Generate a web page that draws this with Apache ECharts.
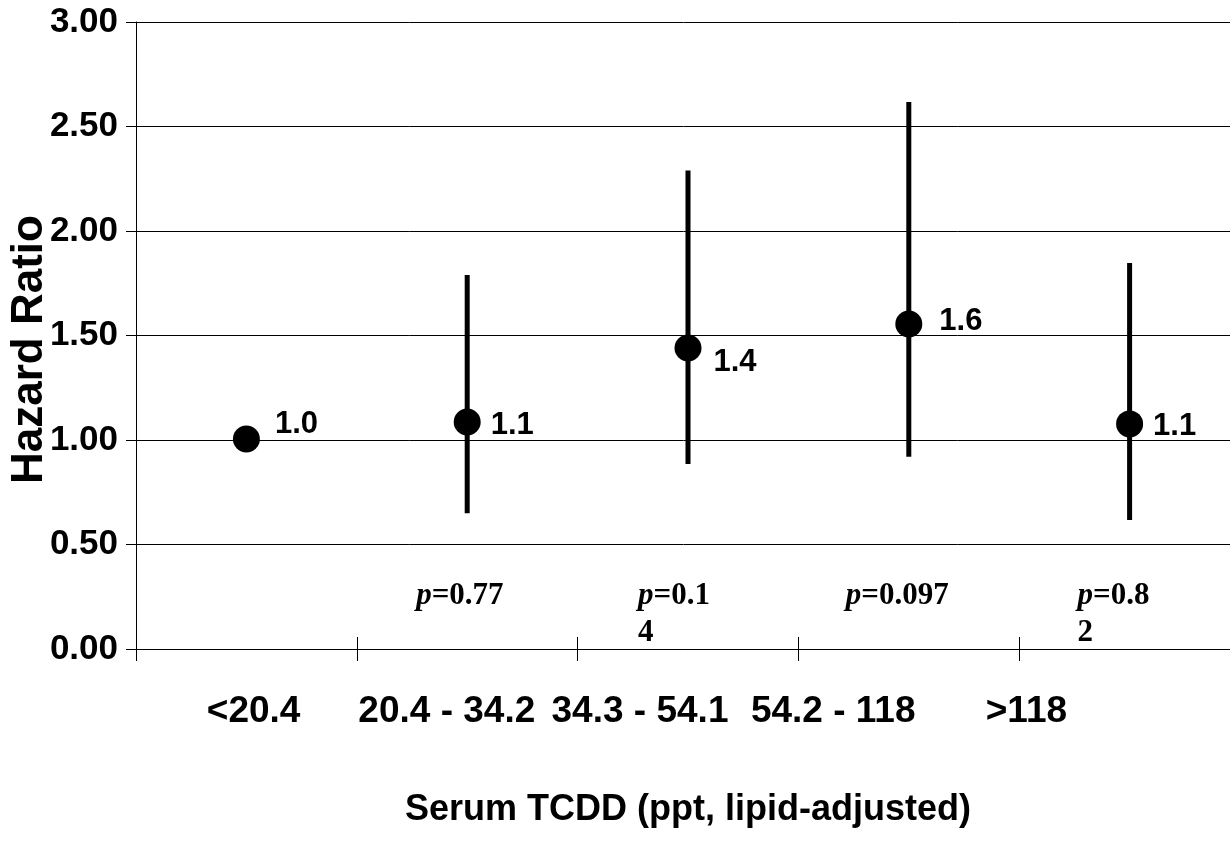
<!DOCTYPE html>
<html>
<head>
<meta charset="utf-8">
<script src="https://cdn.jsdelivr.net/npm/echarts@6/dist/echarts.min.js"></script>
<style>
    html, body { margin: 0; padding: 0; background: #fff; }
    #chart { width: 1230px; height: 862px; }
</style>
</head>
<body>
<div id="chart"></div>
<script>
// 数据
var categories = ['<20.4', '20.4 - 34.2', '34.3 - 54.1', '54.2 - 118', '>118'];
var hazardRatio = [1.005, 1.086, 1.44, 1.555, 1.077];
var ciLower = [null, 0.65, 0.885, 0.92, 0.617];
var ciUpper = [null, 1.79, 2.29, 2.617, 1.847];
var hrLabels = ['1.0', '1.1', '1.4', '1.6', '1.1'];
var pValues = ['', '0.77', '0.1\n4', '0.097', '0.8\n2'];

// label placement (px)
var hrLabelOffset = [[10, -15], [5, 3], [7, 14], [12, -3], [5, 3]];
var pLabelDx = [0, -51, -50, -63, -52];
var pRowValue = 0.34;

var sans = "'Liberation Sans', Arial, sans-serif";
var serif = "'Liberation Serif', 'Times New Roman', serif";

var chart = echarts.init(document.getElementById('chart'));

var errData = [];
for (var i = 0; i < categories.length; i++) {
    if (ciLower[i] != null) errData.push([i, ciLower[i], ciUpper[i]]);
}

var pointData = hazardRatio.map(function (v, i) {
    return {
        value: [i, v],
        label: { formatter: hrLabels[i], offset: hrLabelOffset[i] }
    };
});

var pData = [];
for (var j = 0; j < pValues.length; j++) {
    if (!pValues[j]) continue;
    pData.push({
        value: [j, pRowValue],
        label: { position: [pLabelDx[j], 0], formatter: '{i|p}{b|=' + pValues[j] + '}' }
    });
}

var option = {
    animation: false,
    backgroundColor: '#fff',
    grid: [
        { left: 136, right: -10, top: 22, bottom: 213, outerBoundsMode: 'none', containLabel: false },
        { left: 157, width: 966, top: 22, bottom: 213, outerBoundsMode: 'none', containLabel: false }
    ],
    xAxis: [
        {
            gridIndex: 0,
            type: 'category',
            position: 'bottom',
            data: categories,
            axisLine: { lineStyle: { color: '#000', width: 1 } },
            axisTick: { show: true, length: 12, lineStyle: { color: '#000' } },
            axisLabel: { show: false },
            name: 'Serum TCDD (ppt, lipid-adjusted)',
            nameLocation: 'middle',
            nameGap: 143,
            nameMoveOverlap: false,
            nameTextStyle: { fontFamily: sans, fontWeight: 'bold', fontSize: 36, color: '#000' }
        },
        {
            gridIndex: 0,
            type: 'category',
            position: 'bottom',
            data: categories,
            axisLine: { show: false },
            axisTick: { show: true, inside: true, length: 12, lineStyle: { color: '#000' } },
            axisLabel: { show: false }
        },
        {
            gridIndex: 1,
            type: 'category',
            position: 'bottom',
            data: categories,
            axisLine: { show: false },
            axisTick: { show: false },
            axisLabel: {
                interval: 0,
                margin: 44,
                fontFamily: sans,
                fontWeight: 'bold',
                fontSize: 37,
                color: '#000'
            }
        }
    ],
    yAxis: [
        {
            gridIndex: 0,
            type: 'value',
            min: 0,
            max: 3,
            interval: 0.5,
            axisLine: { show: true, lineStyle: { color: '#000', width: 1 } },
            axisTick: { show: true, length: 10, lineStyle: { color: '#000' } },
            axisLabel: {
                margin: 18,
                fontFamily: sans,
                fontWeight: 'bold',
                fontSize: 35,
                color: '#000',
                formatter: function (v) { return v.toFixed(2); }
            },
            splitLine: { show: true, lineStyle: { color: '#000', width: 1 } },
            name: 'Hazard Ratio',
            nameLocation: 'middle',
            nameGap: 84,
            nameMoveOverlap: false,
            nameTextStyle: { fontFamily: sans, fontWeight: 'bold', fontSize: 44, color: '#000', padding: [0, 28, 0, 0] }
        },
        {
            gridIndex: 0,
            type: 'value',
            position: 'left',
            min: 0,
            max: 3,
            interval: 0.5,
            axisLine: { show: false },
            axisTick: { show: true, inside: true, length: 10, lineStyle: { color: '#000' } },
            axisLabel: { show: false },
            splitLine: { show: false }
        },
        { gridIndex: 1, type: 'value', show: false, min: 0, max: 3 }
    ],
    series: [
        {
            // 置信区间
            type: 'custom',
            xAxisIndex: 0,
            yAxisIndex: 0,
            z: 2,
            renderItem: function (params, api) {
                var x = api.value(0);
                var p1 = api.coord([x, api.value(1)]);
                var p2 = api.coord([x, api.value(2)]);
                return {
                    type: 'line',
                    shape: { x1: p1[0], y1: p1[1], x2: p2[0], y2: p2[1] },
                    style: { stroke: '#000', lineWidth: 5 }
                };
            },
            data: errData
        },
        {
            type: 'scatter',
            xAxisIndex: 0,
            yAxisIndex: 0,
            z: 3,
            symbol: 'circle',
            symbolSize: 27,
            itemStyle: { color: '#000', opacity: 1 },
            label: {
                show: true,
                position: 'right',
                fontFamily: sans,
                fontWeight: 'bold',
                fontSize: 31,
                color: '#000'
            },
            data: pointData
        },
        {
            // p 值
            type: 'scatter',
            xAxisIndex: 0,
            yAxisIndex: 0,
            symbolSize: 0,
            silent: true,
            itemStyle: { opacity: 1 },
            label: {
                show: true,
                align: 'left',
                verticalAlign: 'top',
                lineHeight: 37,
                rich: {
                    i: { fontFamily: serif, fontStyle: 'italic', fontWeight: 'bold', fontSize: 31, color: '#000', lineHeight: 37 },
                    b: { fontFamily: serif, fontWeight: 'bold', fontSize: 31, color: '#000', lineHeight: 37 }
                }
            },
            data: pData
        }
    ]
};

chart.setOption(option);
</script>
</body>
</html>
